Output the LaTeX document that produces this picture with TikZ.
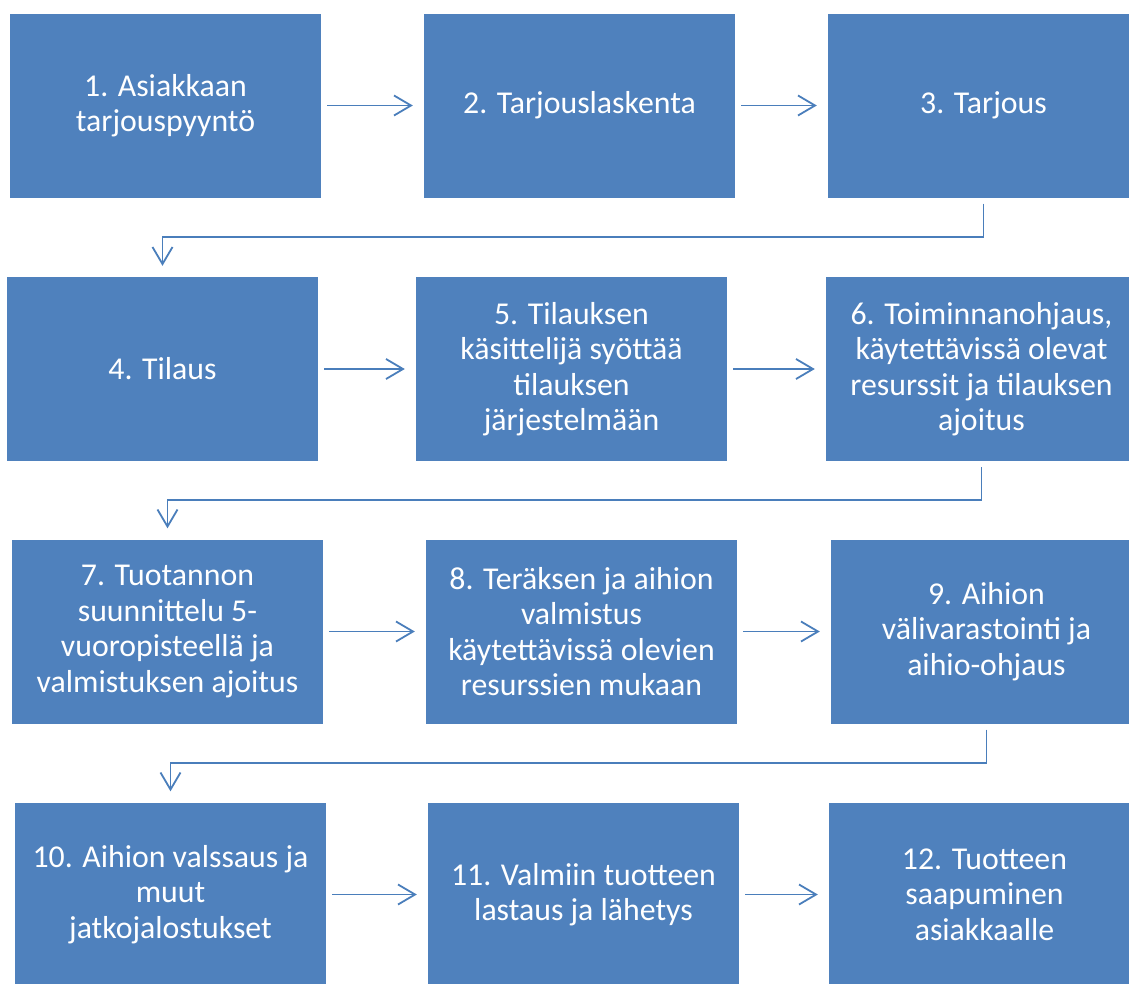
\documentclass[tikz,border=0pt]{standalone}
\usepackage{fontspec}
\setmainfont{Carlito}
\usetikzlibrary{arrows.meta,calc}
\definecolor{boxblue}{HTML}{4F81BD}
\definecolor{linkblue}{HTML}{4A7EBB}
\begin{document}
\begin{tikzpicture}[x=1pt,y=-1pt,
  stepbox/.style={fill=boxblue, draw=none, minimum width=311pt, minimum height=184pt,
    inner sep=0pt, text=white, align=center, font=\fontsize{31.8}{35.4}\selectfont},
  link/.style={draw=linkblue, line width=1.8pt, -{Straight Barb[length=17pt,width=20pt]},
    shorten <=6pt, shorten >=11pt}]
\clip (0,0) rectangle (1129,983);

% row 1
\node[stepbox] (b1) at (165.5,105.5) {1. Asiakkaan\\tarjouspyyntö};
\node[stepbox] (b2) at (579.5,105.5) {2. Tarjouslaskenta};
\node[stepbox] (b3) at (983.5,105.5) {3. Tarjous};
% row 2
\node[stepbox] (b4) at (162.5,369) {4. Tilaus};
\node[stepbox] (b5) at (571.5,369) {5. Tilauksen\\käsittelijä syöttää\\tilauksen\\järjestelmään};
\node[stepbox] (b6) at (981.5,369) {6. Toiminnanohjaus,\\käytettävissä olevat\\resurssit ja tilauksen\\ajoitus};
% row 3
\node[stepbox] (b7) at (167.5,631.5) {7. Tuotannon\\suunnittelu 5-\\vuoropisteellä ja\\valmistuksen ajoitus};
\node[stepbox] (b8) at (581.5,631.5) {8. Teräksen ja aihion\\valmistus\\käytettävissä olevien\\resurssien mukaan};
\node[stepbox] (b9) at (986.5,631.5) {9. Aihion\\välivarastointi ja\\aihio-ohjaus};
% row 4
\node[stepbox] (b10) at (170.5,894.5) {10. Aihion valssaus ja\\muut\\jatkojalostukset};
\node[stepbox] (b11) at (583.5,894.5) {11. Valmiin tuotteen\\lastaus ja lähetys};
\node[stepbox] (b12) at (984.5,894.5) {12. Tuotteen\\saapuminen\\asiakkaalle};

% arrows within rows
\draw[link] (b1) -- (b2);
\draw[link] (b2) -- (b3);
\draw[link] (b4) -- (b5);
\draw[link] (b5) -- (b6);
\draw[link] (b7) -- (b8);
\draw[link] (b8) -- (b9);
\draw[link] (b10) -- (b11);
\draw[link] (b11) -- (b12);

% elbow connectors between rows
\draw[link] (b3.south) |- ($(b3.south)!.5!(b4.north)$) -| (b4.north);
\draw[link] (b6.south) |- ($(b6.south)!.5!(b7.north)$) -| (b7.north);
\draw[link] (b9.south) |- ($(b9.south)!.5!(b10.north)$) -| (b10.north);
\end{tikzpicture}
\end{document}
